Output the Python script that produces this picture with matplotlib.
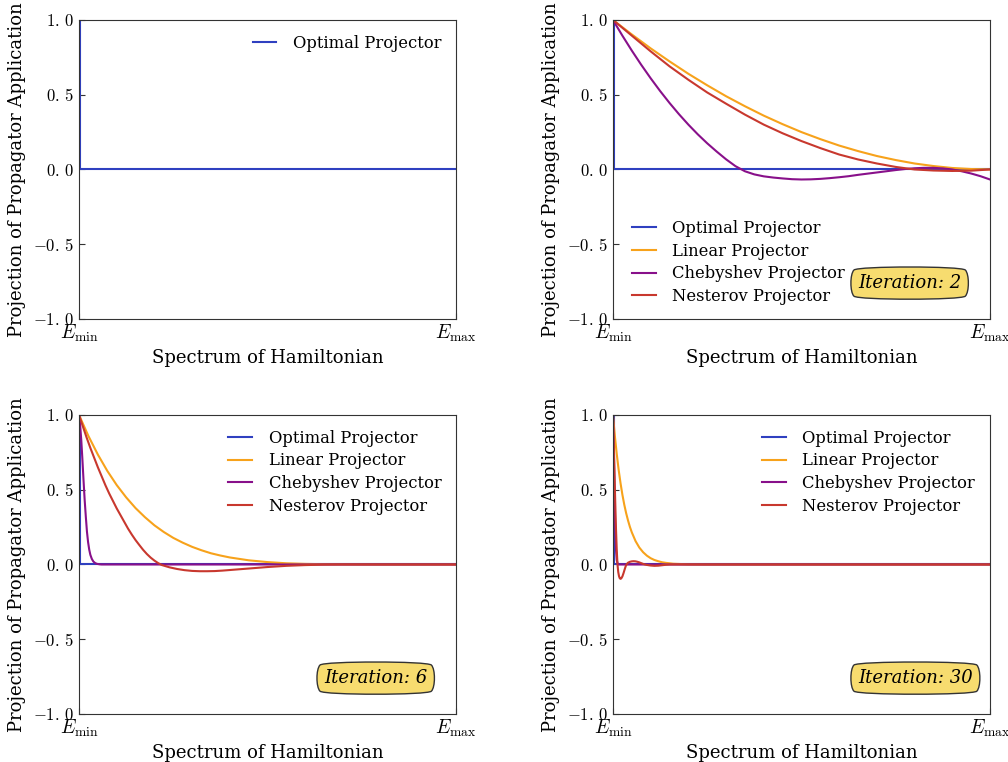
import matplotlib
matplotlib.use("Agg")
import matplotlib.pyplot as plt
from matplotlib.ticker import FuncFormatter

plt.rcParams['font.family'] = 'DejaVu Serif'
plt.rcParams['mathtext.fontset'] = 'cm'

# colours for each projector
c_opt = '#2f40c0'
c_lin = '#f7a21b'
c_cheb = '#88108a'
c_nest = '#c8382e'

# optimal projector: step at the lowest eigenvalue
opt_x = [0.0, 0.003, 0.003, 1.0]
opt_y = [1.0, 1.0, 0.0, 0.0]

# iteration 2
lin2_x = [0.0, 0.05, 0.1, 0.15, 0.2, 0.25, 0.3, 0.35, 0.4, 0.45, 0.5,
          0.55, 0.6, 0.65, 0.7, 0.75, 0.8, 0.85, 0.9, 0.95, 1.0]
lin2_y = [1.0, 0.903, 0.81, 0.723, 0.64, 0.563, 0.49, 0.423, 0.36, 0.303, 0.25,
          0.203, 0.16, 0.123, 0.09, 0.063, 0.04, 0.023, 0.01, 0.003, 0.0]
cheb2_x = [0.0, 0.025, 0.05, 0.075, 0.1, 0.125, 0.15, 0.175, 0.2, 0.225, 0.25, 0.275,
           0.3, 0.325, 0.35, 0.375, 0.4, 0.425, 0.45, 0.475, 0.5, 0.525, 0.55, 0.575,
           0.6, 0.625, 0.65, 0.675, 0.7, 0.725, 0.75, 0.775, 0.8, 0.825, 0.85, 0.875,
           0.9, 0.925, 0.95, 0.975, 1.0]
cheb2_y = [1.0, 0.895, 0.795, 0.70, 0.61, 0.525, 0.445, 0.37, 0.30, 0.235, 0.175, 0.12,
           0.068, 0.022, -0.012, -0.033, -0.046, -0.054, -0.060, -0.065, -0.067, -0.066,
           -0.063, -0.058, -0.052, -0.045, -0.036, -0.028, -0.020, -0.012, -0.004, 0.003,
           0.008, 0.011, 0.011, 0.007, 0.0, -0.012, -0.027, -0.045, -0.067]
nest2_x = [0.0, 0.05, 0.1, 0.15, 0.2, 0.25, 0.3, 0.35, 0.4, 0.45, 0.5,
           0.55, 0.6, 0.65, 0.7, 0.75, 0.8, 0.85, 0.9, 0.95, 1.0]
nest2_y = [1.0, 0.895, 0.79, 0.69, 0.60, 0.515, 0.44, 0.367, 0.30, 0.242, 0.19,
           0.143, 0.10, 0.067, 0.04, 0.017, 0.0, -0.007, -0.01, -0.008, 0.0]

# iteration 6
lin6_x = [0.0, 0.025, 0.05, 0.075, 0.1, 0.125, 0.15, 0.175, 0.2, 0.225, 0.25, 0.275,
          0.3, 0.325, 0.35, 0.375, 0.4, 0.45, 0.5, 0.55, 0.6, 0.65, 0.7, 0.8, 1.0]
lin6_y = [1.0, 0.859, 0.735, 0.626, 0.531, 0.449, 0.377, 0.316, 0.262, 0.217, 0.178, 0.146,
          0.118, 0.095, 0.075, 0.060, 0.047, 0.028, 0.016, 0.008, 0.004, 0.002, 0.001, 0.0, 0.0]
cheb6_x = [0.0, 0.003, 0.006, 0.009, 0.012, 0.015, 0.018, 0.021, 0.024, 0.027, 0.03,
           0.034, 0.038, 0.043, 0.048, 0.055, 0.06, 1.0]
cheb6_y = [1.0, 0.93, 0.83, 0.70, 0.56, 0.43, 0.32, 0.22, 0.15, 0.10, 0.065,
           0.037, 0.02, 0.009, 0.004, 0.001, 0.0, 0.0]
nest6_x = [0.0, 0.01, 0.02, 0.03, 0.04, 0.05, 0.06, 0.07, 0.08, 0.09, 0.1, 0.11, 0.12,
           0.13, 0.14, 0.15, 0.16, 0.17, 0.18, 0.19, 0.2, 0.21, 0.22, 0.24, 0.26, 0.28,
           0.3, 0.32, 0.34, 0.36, 0.38, 0.4, 0.45, 0.5, 0.55, 0.6, 0.65, 0.7, 1.0]
nest6_y = [1.0, 0.925, 0.85, 0.78, 0.715, 0.65, 0.59, 0.53, 0.475, 0.425, 0.375, 0.33, 0.285,
           0.24, 0.20, 0.163, 0.13, 0.098, 0.07, 0.046, 0.026, 0.009, -0.004, -0.019, -0.03, -0.038,
           -0.043, -0.045, -0.045, -0.044, -0.041, -0.037, -0.027, -0.017, -0.009, -0.004, -0.001,
           0.0, 0.0]

# iteration 30
lin30_x = [0.0, 0.005, 0.01, 0.015, 0.02, 0.025, 0.03, 0.035, 0.04, 0.045, 0.05, 0.06,
           0.07, 0.08, 0.09, 0.1, 0.11, 0.12, 0.13, 0.14, 0.16, 0.18, 0.2, 0.25, 1.0]
lin30_y = [1.0, 0.86, 0.74, 0.635, 0.545, 0.467, 0.40, 0.343, 0.294, 0.251, 0.215, 0.156,
           0.113, 0.082, 0.059, 0.042, 0.030, 0.022, 0.015, 0.011, 0.005, 0.003, 0.001, 0.0, 0.0]
cheb30_x = [0.0, 0.002, 0.004, 0.006, 0.008, 0.01, 0.013, 1.0]
cheb30_y = [1.0, 0.8, 0.5, 0.25, 0.1, 0.03, 0.0, 0.0]
nest30_x = [0.0, 0.002, 0.004, 0.006, 0.008, 0.01, 0.012, 0.014, 0.016, 0.018, 0.02, 0.022,
            0.025, 0.028, 0.031, 0.034, 0.037, 0.04, 0.045, 0.05, 0.055, 0.06, 0.065, 0.07,
            0.075, 0.08, 0.085, 0.09, 0.1, 0.11, 0.12, 0.13, 0.14, 0.15, 1.0]
nest30_y = [1.0, 0.82, 0.62, 0.42, 0.24, 0.10, 0.0, -0.05, -0.078, -0.092, -0.096, -0.093,
            -0.08, -0.058, -0.033, -0.01, 0.004, 0.012, 0.018, 0.021, 0.022, 0.021, 0.018, 0.014,
            0.009, 0.004, 0.0, -0.003, -0.007, -0.009, -0.008, -0.005, -0.002, 0.0, 0.0]

labels = ['Optimal Projector', 'Linear Projector', 'Chebyshev Projector', 'Nesterov Projector']


def tick_fmt(v, pos):
    return '$' + ('%.1f' % v).replace('.', r'.\,') + '$'


fig = plt.figure(figsize=(10.08, 7.62), dpi=100)
rects = [
    [0.0784, 0.5814, 0.374, 0.3924],
    [0.6081, 0.5814, 0.374, 0.3924],
    [0.0784, 0.0630, 0.374, 0.3924],
    [0.6081, 0.0630, 0.374, 0.3924],
]
panels = [
    (None, None, None, None, 'upper right'),
    (2, (lin2_x, lin2_y), (cheb2_x, cheb2_y), (nest2_x, nest2_y), 'lower left'),
    (6, (lin6_x, lin6_y), (cheb6_x, cheb6_y), (nest6_x, nest6_y), 'upper right'),
    (30, (lin30_x, lin30_y), (cheb30_x, cheb30_y), (nest30_x, nest30_y), 'upper right'),
]

for rect, (it, lin, cheb, nest, loc) in zip(rects, panels):
    ax = fig.add_axes(rect)
    ax.plot(opt_x, opt_y, color=c_opt, lw=1.5, label=labels[0])
    if it is not None:
        ax.plot(lin[0], lin[1], color=c_lin, lw=1.5, label=labels[1])
        ax.plot(cheb[0], cheb[1], color=c_cheb, lw=1.5, label=labels[2])
        ax.plot(nest[0], nest[1], color=c_nest, lw=1.5, label=labels[3])
        ax.text(0.65, 0.12, 'Iteration: %d' % it, transform=ax.transAxes,
                fontsize=13, style='italic', ha='left', va='center',
                bbox=dict(boxstyle='round4,pad=0.45', fc='#f7dc6f', ec='#333333', lw=1))
    ax.set_xlim(0, 1)
    ax.set_ylim(-1, 1)
    ax.set_xticks([0, 1])
    ax.set_xticklabels([r'$E_{\min}$', r'$E_{\max}$'])
    ax.set_yticks([-1, -0.5, 0, 0.5, 1])
    ax.yaxis.set_major_formatter(FuncFormatter(tick_fmt))
    ax.tick_params(axis='both', direction='in', length=4, color='#333333')
    ax.tick_params(axis='x', pad=3, labelsize=14)
    ax.tick_params(axis='y', labelsize=12)
    for s in ax.spines.values():
        s.set_color('#333333')
    ax.set_xlabel('Spectrum of Hamiltonian', fontsize=13, labelpad=3)
    ax.set_ylabel('Projection of Propagator Application', fontsize=13, labelpad=5)
    leg_kw = dict(frameon=False, fontsize=11.8, handlelength=1.45,
                  handletextpad=1.0, labelspacing=0.35)
    if loc == 'lower left':
        ax.legend(loc=loc, bbox_to_anchor=(0.011, -0.003), **leg_kw)
    else:
        ax.legend(loc=loc, **leg_kw)

fig.savefig('out.png', dpi=100)
